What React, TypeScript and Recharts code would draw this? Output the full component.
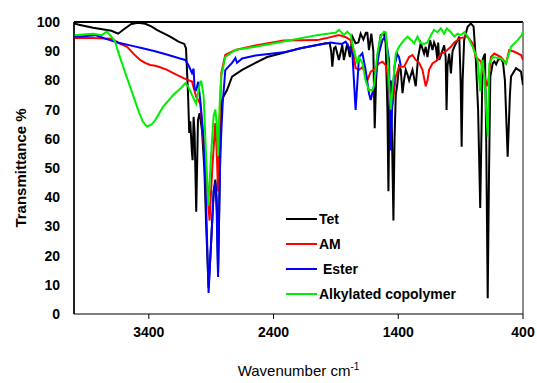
import React from 'react';
import { LineChart, Line, XAxis, YAxis, Legend, Label, ReferenceLine } from 'recharts';

// [wavenumber cm-1, transmittance %]
const tet: [number, number][] = [
  [4000, 99.5], [3952, 99], [3847, 98], [3700, 97], [3646, 96], [3600, 97.5], [3540, 99.3], [3486, 99.7],
  [3429, 99.4], [3380, 98.5], [3336, 97.3], [3229, 95], [3162, 93.3], [3116, 92.5], [3102, 91],
  [3086, 75.7], [3076, 62], [3068, 66], [3054, 55], [3049, 52.7], [3041, 67.5], [3033, 62], [3020, 35],
  [3006, 66.4], [2993, 68.8], [2974, 63], [2955, 50], [2940, 30], [2921, 9], [2900, 25], [2880, 42],
  [2867, 46], [2856, 40], [2845, 14], [2832, 45], [2819, 71], [2808, 74], [2773, 76.7], [2733, 81.3],
  [2652, 83.6], [2545, 86], [2451, 88], [2320, 89.5], [2184, 91], [2050, 92.1], [1983, 92.7],
  [1950, 92.8], [1938, 90], [1929, 84.7], [1915, 91], [1903, 91.5], [1876, 87], [1849, 92.1], [1836, 87],
  [1809, 92.7], [1788, 88], [1768, 95], [1742, 92.7], [1720, 93], [1702, 96], [1680, 94], [1660, 96.3],
  [1648, 96.3], [1635, 90.4], [1616, 96], [1600, 90], [1589, 63.6], [1578, 80], [1567, 88], [1541, 95.5],
  [1515, 96], [1501, 92.7], [1487, 70], [1479, 42], [1470, 75], [1460, 80], [1450, 60], [1439, 32],
  [1430, 60], [1420, 75], [1407, 79], [1394, 84.7], [1380, 83.6], [1366, 75.6], [1354, 80], [1340, 83.6],
  [1326, 82], [1313, 80], [1286, 83.6], [1260, 78], [1241, 88], [1220, 92.7], [1193, 89.2], [1180, 91.5],
  [1166, 88], [1145, 93.8], [1126, 90.4], [1113, 93], [1099, 91.5], [1086, 87], [1080, 93], [1072, 87],
  [1059, 88.5], [1032, 92], [1020, 88], [1013, 69.9], [1005, 85], [992, 89.2], [978, 82.4], [965, 90],
  [951, 91.5], [938, 92.7], [924, 93.8], [911, 95], [900, 80], [892, 57.3], [884, 80], [872, 93.8],
  [844, 98.4], [818, 99.5], [796, 98.4], [778, 87], [760, 70], [743, 36.3], [730, 70], [724, 87],
  [705, 89.2], [695, 60], [683, 5.4], [672, 50], [662, 81.3], [643, 85.8], [630, 86.5], [615, 85.5],
  [600, 87], [577, 87.5], [560, 86], [545, 80], [523, 53.9], [505, 75], [496, 81.3], [456, 84.2],
  [416, 83], [400, 78.4],
];

const am: [number, number][] = [
  [4000, 94.5], [3850, 94.5], [3700, 94.3], [3671, 93.6], [3630, 92.5], [3574, 91.5], [3520, 89],
  [3470, 87], [3430, 86], [3389, 85.3], [3349, 85], [3309, 84.5], [3253, 83.6], [3204, 82.5],
  [3172, 81.8], [3108, 80.5], [3054, 79.6], [3020, 74.4], [2987, 72], [2961, 58.5], [2942, 48],
  [2913, 32], [2891, 50], [2867, 65.4], [2855, 55], [2845, 42], [2832, 66], [2819, 82.5], [2787, 88.7],
  [2706, 90.4], [2545, 92], [2320, 93.7], [2050, 93.8], [1983, 94.4], [1876, 95.5], [1820, 94.8],
  [1782, 93.8], [1768, 91.5], [1742, 84.2], [1715, 83.6], [1688, 84.5], [1662, 82.4], [1648, 80],
  [1621, 83], [1595, 83.6], [1555, 85.8], [1527, 86.4], [1501, 85.3], [1487, 82.4], [1461, 70],
  [1445, 72], [1420, 81.3], [1394, 84.7], [1354, 84.7], [1313, 88], [1286, 88.7], [1260, 87],
  [1233, 86], [1206, 83.6], [1180, 78], [1166, 80], [1153, 83.6], [1126, 85.8], [1086, 87],
  [1059, 89.2], [1032, 89.5], [1005, 90.5], [978, 91.5], [951, 93], [924, 93.8], [911, 94.4],
  [844, 95], [804, 92.7], [778, 88], [737, 86.4], [711, 81.3], [683, 78], [657, 88], [630, 89.2],
  [577, 88], [536, 85.8], [510, 90.4], [469, 89.8], [416, 88.7], [400, 87],
];

const ester: [number, number][] = [
  [4000, 95], [3950, 95], [3900, 95.2], [3831, 95.5], [3750, 94.3], [3650, 93], [3550, 92], [3450, 91],
  [3350, 90], [3250, 88.8], [3150, 87.5], [3108, 87], [3080, 85], [3054, 82.5], [3041, 84], [3033, 77],
  [3020, 76.7], [3004, 79.5], [2987, 73], [2961, 60], [2942, 39], [2921, 7.2], [2900, 25], [2880, 42],
  [2867, 45], [2856, 35], [2845, 12.7], [2827, 55], [2808, 72], [2787, 83.5], [2733, 86], [2706, 87.7],
  [2693, 86], [2652, 87.5], [2545, 88.5], [2320, 89.6], [2184, 91], [2050, 92.1], [1970, 92.7],
  [1943, 93], [1903, 92.7], [1850, 92.5], [1822, 93.3], [1782, 90.4], [1768, 89.2], [1742, 69.9],
  [1715, 88], [1688, 89.3], [1662, 83.6], [1635, 75.6], [1621, 73.3], [1595, 78], [1555, 89.2],
  [1527, 93.8], [1501, 95], [1474, 87], [1466, 66], [1461, 56], [1450, 70], [1430, 85], [1407, 89],
  [1394, 88], [1380, 85],
];

const alkylated: [number, number][] = [
  [4000, 95.5], [3900, 95.8], [3847, 96], [3777, 95.5], [3737, 96.7], [3700, 95], [3671, 93.3],
  [3640, 89], [3606, 84.7], [3550, 77.8], [3486, 69.9], [3450, 66], [3416, 64.2], [3380, 64.8],
  [3349, 66.4], [3285, 71], [3204, 75], [3140, 77.5], [3108, 79], [3085, 78], [3054, 75], [3020, 72],
  [3000, 77], [2987, 79.6], [2979, 79.6], [2961, 75], [2942, 55], [2923, 37], [2900, 55], [2880, 68],
  [2867, 70], [2855, 65], [2845, 54], [2832, 72], [2819, 81.3], [2787, 88], [2706, 90.4], [2545, 91.5],
  [2320, 93.3], [2050, 95.5], [1970, 96], [1903, 96.3], [1876, 97.3], [1836, 95.5], [1809, 96.7],
  [1782, 95.5], [1756, 90.4], [1728, 85.8], [1715, 88], [1688, 86], [1662, 80], [1635, 76.7],
  [1608, 76.7], [1595, 78], [1567, 89.3], [1541, 95], [1515, 96.7], [1501, 96.5], [1487, 89.2],
  [1461, 70], [1440, 80], [1420, 89.2], [1394, 91.5], [1354, 93.8], [1326, 95], [1300, 94],
  [1273, 92.7], [1246, 95], [1220, 92.7], [1193, 92.5], [1166, 93], [1139, 95.5], [1113, 97.3],
  [1086, 96.5], [1059, 97.8], [1032, 96], [1011, 97.8], [978, 96.5], [951, 95], [924, 96], [898, 95.5],
  [870, 96.5], [844, 95], [804, 91.5], [764, 87], [743, 76.2], [730, 87], [711, 82], [683, 60.7],
  [670, 85.8], [643, 88], [577, 87.5], [536, 85.8], [496, 91.5], [443, 93.8], [410, 95.5], [400, 96.7],
];

const xTicks = [3400, 2400, 1400, 400];
const yTicks = [0, 10, 20, 30, 40, 50, 60, 70, 80, 90, 100];

const series = [
  { name: 'Tet', color: '#000000', points: tet },
  { name: 'AM', color: '#ff0000', points: am },
  { name: ' Ester', color: '#0000ff', points: ester },
  { name: 'Alkylated copolymer', color: '#00ee00', points: alkylated },
];

const FONT = "'Liberation Sans', Arial, sans-serif";

const toRows = (pts: [number, number][]) => pts.map(([wn, t]) => ({ wn, t }));

function LegendBox() {
  return (
    <div style={{ fontFamily: FONT, fontSize: 14, fontWeight: 700, color: '#000' }}>
      {series.map((s) => (
        <div key={s.name} style={{ display: 'flex', alignItems: 'center', height: 25 }}>
          <div style={{ width: 31, height: 2, background: s.color, marginRight: 2 }} />
          <span style={{ whiteSpace: 'pre' }}>{s.name}</span>
        </div>
      ))}
    </div>
  );
}

function XTitle(props: any) {
  const { x, y, width } = props.viewBox;
  return (
    <text x={x + width / 2} y={y + 62} textAnchor="middle" fontFamily={FONT} fontSize={15} fill="#000">
      Wavenumber cm
      <tspan dy={-6} fontSize={10}>-1</tspan>
    </text>
  );
}

function YTitle(props: any) {
  const { y, height } = props.viewBox;
  const cx = 20;
  const cy = y + height / 2;
  return (
    <text x={cx} y={cy} transform={`rotate(-90 ${cx} ${cy})`} textAnchor="middle" dominantBaseline="central"
      fontFamily={FONT} fontSize={15} fontWeight={700} fill="#000">
      Transmittance %
    </text>
  );
}

export default function App() {
  const tickStyle = { fill: '#000', fontSize: 14, fontWeight: 700, fontFamily: FONT };
  return (
    <div style={{ position: 'absolute', left: 0, top: 0, background: '#fff' }}>
      <LineChart width={537} height={383} margin={{ top: 22, right: 14, left: 0, bottom: 0 }}>
        <XAxis
          dataKey="wn"
          type="number"
          domain={[400, 4000]}
          reversed
          ticks={xTicks}
          height={69}
          tickSize={5}
          tickMargin={8}
          tick={tickStyle}
          stroke="#000"
          allowDataOverflow
        >
          <Label content={XTitle} />
        </XAxis>
        <YAxis
          type="number"
          domain={[0, 100]}
          ticks={yTicks}
          width={74}
          tickLine={false}
          tickSize={6}
          tickMargin={8}
          tick={tickStyle}
          stroke="#000"
          interval={0}
        >
          <Label content={YTitle} />
        </YAxis>
        <ReferenceLine y={100} stroke="#000" strokeWidth={2} />
        <ReferenceLine x={400} stroke="#666" strokeWidth={1.5} />
        <ReferenceLine x={4000} stroke="#000" strokeWidth={1.5} />
        {series.map((s) => (
          <Line
            key={s.name}
            data={toRows(s.points)}
            dataKey="t"
            name={s.name}
            type="linear"
            stroke={s.color}
            strokeWidth={2}
            dot={false}
            activeDot={false}
            isAnimationActive={false}
          />
        ))}
        <Legend
          layout="vertical"
          align="center"
          verticalAlign="middle"
          content={LegendBox}
          wrapperStyle={{ left: 286, top: 206, width: 'auto' }}
        />
      </LineChart>
    </div>
  );
}
